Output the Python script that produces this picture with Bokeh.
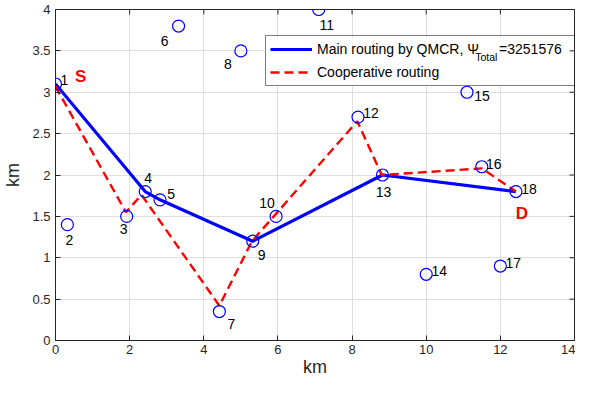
from bokeh.plotting import figure
from bokeh.models import (ColumnDataSource, FixedTicker, CustomJSTickFormatter,
                          Legend, LegendItem, Range1d, BoxAnnotation)
from bokeh.core.properties import value
from bokeh.embed import file_html
from bokeh.resources import INLINE

# ---------------- data ----------------
node_ids = [str(i) for i in range(1, 19)]
node_x = [0.0, 0.32, 1.92, 2.42, 2.82, 3.32, 4.42, 5.0, 5.32, 5.95, 7.1, 8.16, 8.82, 10.0, 11.1, 11.5, 12.0, 12.42]
node_y = [3.1, 1.4, 1.5, 1.8, 1.7, 3.8, 0.35, 3.5, 1.2, 1.5, 4.0, 2.7, 2.0, 0.8, 3.0, 2.1, 0.9, 1.8]

main_route = [1, 4, 5, 9, 13, 18]

coop_x = [0.0, 1.9, 2.32, 4.42, 5.3, 8.14, 8.8, 11.5, 12.42]
coop_y = [3.07, 1.55, 1.76, 0.42, 1.2, 2.65, 2.0, 2.08, 1.8]

x_ticks = [0, 2, 4, 6, 8, 10, 12, 14]
y_ticks = [0, 0.5, 1, 1.5, 2, 2.5, 3, 3.5, 4]
x_min, x_max = 0, 14
y_min, y_max = 0, 4

endpoint_text = ["S", "D"]
endpoint_x = [0.68, 12.58]
endpoint_y = [3.19, 1.54]

psi_total = 3251576
legend_sub_text = ["Total", "=" + str(psi_total)]
legend_sub_x = [11.32, 11.965]
legend_sub_y = [3.42, 3.517]
legend_sub_size = ["10.5px", "14px"]

# legend placement in frame pixels (styling)
LEG_X, LEG_Y, LEG_W, LEG_H = 210, 254, 310, 49

# label placement (screen pixel offsets, styling only)
label_dx = [9, 2, -3, 3, 11, -14, 12, -13, 9, -9, 8, 13, 1, 13, 15, 12, 13, 13]
label_dy = [-4, 15, 13, -14, -6, 15, 12, 13, 14, -13, 15, -4, 17, -3, 4, -3, -3, -3]

FONT = "Liberation Sans"
AXC = "#262626"
W, H = 575, 380
ML, MR, MT, MB = 51, 1, 9, 40

p = figure(width=W, height=H, output_backend="svg", toolbar_location=None,
           x_range=Range1d(x_min, x_max), y_range=Range1d(y_min, y_max),
           min_border_left=ML, min_border_right=MR, min_border_top=MT, min_border_bottom=MB)
p.background_fill_color = "white"
p.border_fill_color = "white"
p.outline_line_color = AXC
p.outline_line_width = 1

for ax in (p.xaxis[0], p.yaxis[0]):
    ax.major_tick_in = 5
    ax.major_tick_out = 0
    ax.minor_tick_line_color = None
    ax.axis_line_color = AXC
    ax.major_tick_line_color = AXC
    ax.major_label_text_color = AXC
    ax.major_label_text_font = FONT
    ax.major_label_text_font_size = "13px"
    ax.axis_label_text_font = FONT
    ax.axis_label_text_font_size = "18px"
    ax.axis_label_text_font_style = "normal"
    ax.axis_label_text_color = AXC

p.xaxis[0].ticker = FixedTicker(ticks=x_ticks)
p.yaxis[0].ticker = FixedTicker(ticks=y_ticks)
p.xaxis[0].formatter = CustomJSTickFormatter(code="return String(tick);")
p.yaxis[0].formatter = CustomJSTickFormatter(code="return String(tick);")
p.xaxis[0].axis_label = "km"
p.yaxis[0].axis_label = "km"
p.xaxis[0].major_label_standoff = 4
p.xaxis[0].axis_label_standoff = 0
p.yaxis[0].major_label_standoff = 5
p.yaxis[0].axis_label_standoff = 6

p.xgrid.ticker = FixedTicker(ticks=x_ticks)
p.ygrid.ticker = FixedTicker(ticks=y_ticks)
p.xgrid.grid_line_color = "#dfdfdf"
p.ygrid.grid_line_color = "#dfdfdf"

# white legend background (covers grid), computed from frame pixel geometry
fw = W - ML - MR
fh = H - MT - MB
sx = (x_max - x_min) / fw
sy = (y_max - y_min) / fh
p.add_layout(BoxAnnotation(left=x_min + LEG_X * sx, right=x_min + (LEG_X + LEG_W) * sx,
                           bottom=y_min + LEG_Y * sy, top=y_min + (LEG_Y + LEG_H) * sy,
                           fill_color="white", fill_alpha=1.0, line_color=None,
                           level="underlay"))

# box ticks on top and right edges (clipped to frame -> inward ticks)
p.scatter(x_ticks, [y_max] * len(x_ticks), marker="dash", angle=1.5708, size=10,
          line_color=AXC, line_width=1)
p.scatter([x_max] * len(y_ticks), y_ticks, marker="dash", size=10,
          line_color=AXC, line_width=1)

# routes
mx = [node_x[i - 1] for i in main_route]
my = [node_y[i - 1] for i in main_route]
r_main = p.line(mx, my, line_color="#0000ff", line_width=3.2)
r_coop = p.line(coop_x, coop_y, line_color="#ff0000", line_width=2.4, line_dash="9 5")

# nodes
src = ColumnDataSource(dict(x=node_x, y=node_y, t=node_ids, dx=label_dx, dy=label_dy))
p.scatter("x", "y", source=src, marker="circle", size=12, fill_color=None,
          line_color="#0000ff", line_width=1.2)
p.text("x", "y", text="t", source=src, x_offset="dx", y_offset="dy",
       text_align="center", text_baseline="middle", text_font=value(FONT),
       text_font_size="14px", text_color="#000000")

p.text(endpoint_x, endpoint_y, text=endpoint_text, text_align="center", text_baseline="middle",
       text_font=value(FONT), text_font_size="17px", text_font_style="bold", text_color="#ff0000")

# subscript part of the first legend entry
sub_src = ColumnDataSource(dict(x=legend_sub_x, y=legend_sub_y, t=legend_sub_text, fs=legend_sub_size))
p.text("x", "y", text="t", source=sub_src, text_font=value(FONT), text_font_size="fs",
       text_baseline="middle", text_align="left", text_color="#000000")

legend = Legend(items=[LegendItem(label="Main routing by QMCR, \u03a8", renderers=[r_main]),
                       LegendItem(label="Cooperative routing", renderers=[r_coop])],
                location=(LEG_X, LEG_Y), padding=4, spacing=5, label_height=18, glyph_height=18,
                glyph_width=42, label_standoff=5, label_width=255, margin=0,
                border_line_color="#000000", border_line_width=1,
                background_fill_alpha=0.0,
                label_text_font=FONT, label_text_font_size="14px", label_text_color="#000000")
p.add_layout(legend)

open("out.html", "w").write(file_html(p, INLINE))
